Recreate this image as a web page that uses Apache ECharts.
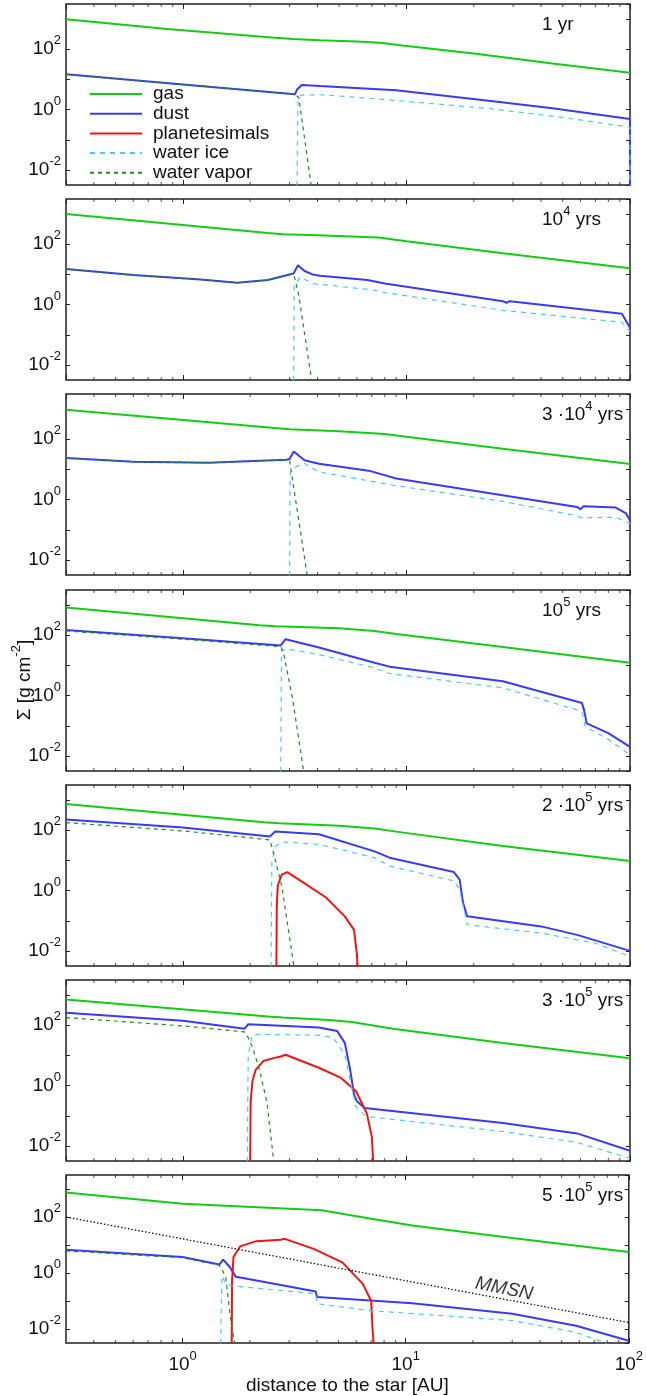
<!DOCTYPE html>
<html>
<head>
<meta charset="utf-8">
<script src="https://cdn.jsdelivr.net/npm/echarts@6/dist/echarts.min.js"></script>
<style>
  html, body { margin: 0; padding: 0; background: #fff; }
  #chart { width: 646px; height: 1396px; }
</style>
</head>
<body>
<div id="chart"></div>
<script>
// Surface densities Σ [g cm^-2] against distance to the star [AU], seven snapshots.

const panelTimes = [
  '{b|1 yr}',
  '{b|10}{s|4}{b| yrs}',
  '{b|3 ·10}{s|4}{b| yrs}',
  '{b|10}{s|5}{b| yrs}',
  '{b|2 ·10}{s|5}{b| yrs}',
  '{b|3 ·10}{s|5}{b| yrs}',
  '{b|5 ·10}{s|5}{b| yrs}'
];
const seriesNames = ['gas', 'dust', 'planetesimals', 'water ice', 'water vapor'];
const xMinorTicks = [0.4, 0.5, 0.6, 0.7, 0.8, 0.9, 2, 3, 4, 5, 6, 7, 8, 9, 20, 30, 40, 50, 60, 70, 80, 90];

// 1 yr
const gas1 = [[0.3,980],[0.85,470],[2.5,245],[3.1,218],[4.1,200],[6,182],[7.6,163],[9.6,132],[20,72],[45,34],[100,16.5]];
const dust1 = [[0.3,14.8],[1,6.8],[3.17,3.2],[3.24,4.6],[3.4,6.5],[4.1,6.0],[9,4.4],[22.8,2.0],[45,1.1],[100,0.49],[100,0.003]];
const vapor1 = [[0.3,14.8],[1,6.8],[3.17,3.2],[3.3,2.5],[3.75,0.003]];
const ice1 = [[3.24,0.003],[3.27,2.0],[3.36,3.0],[4.1,3.1],[5.8,2.6],[9,2.0],[23,1.1],[50,0.55],[100,0.26],[100,0.003]];

// 1e4 yrs
const gas2 = [[0.3,1000],[2.4,235],[2.8,215],[4,200],[7.5,166],[10,125],[27,50],[100,16]];
const dust2 = [[0.3,15],[0.6,9.5],[1.2,6.8],[1.75,5.3],[2.4,6.5],[3.13,10.8],[3.27,20],[3.5,13],[3.8,10],[4.1,9.1],[6.7,6.5],[8,5.0],[27,1.3],[28,1.15],[29,1.3],[92,0.5],[100,0.17]];
const vapor2 = [[0.3,15],[0.6,9.5],[1.2,6.8],[1.75,5.3],[2.4,6.5],[3.13,10.8],[3.3,2.0],[3.77,0.003]];
const ice2 = [[3.13,0.003],[3.15,4],[3.35,8.3],[3.8,5.0],[7.2,3.0],[8,2.5],[27,0.65],[92,0.26],[100,0.13]];

// 3e4 yrs
const gas3 = [[0.3,950],[2.5,240],[3,215],[5,185],[8,150],[10,120],[27,48],[100,15]];
const dust3 = [[0.3,24],[0.6,18],[1.3,16.6],[2.9,21],[3.0,22],[3.13,39],[3.5,20],[4.06,15.5],[6.9,8.8],[9,5.0],[58,0.57],[60,0.48],[62,0.6],[86,0.55],[96,0.35],[100,0.2]];
const vapor3 = [[0.3,24],[0.6,18],[1.3,16.6],[2.9,21],[3.0,20],[3.6,0.003]];
const ice3 = [[3.0,0.003],[3.02,8],[3.2,12],[3.48,16],[4.06,8.3],[8.7,3.0],[27,0.87],[58,0.29],[60,0.25],[86,0.26],[100,0.16]];

// 1e5 yrs
const gas4 = [[0.3,835],[2.2,215],[2.6,200],[5,170],[7.2,139],[9,110],[27,41],[100,12.3]];
const dust4 = [[0.3,150],[1,79],[2.74,46],[2.88,74],[4.06,39],[7.2,12.3],[8.4,9.1],[27,3.0],[61,0.57],[62.5,0.3],[64,0.12],[80,0.057],[100,0.02]];
const vapor4 = [[0.3,139],[1,74],[2.74,42],[2.82,26],[3.1,0.74],[3.47,0.003]];
const ice4 = [[2.74,0.003],[2.76,32],[3.0,34],[4.06,23],[7.2,8.3],[8.4,5.4],[27,1.8],[61,0.3],[63,0.095],[80,0.035],[100,0.011]];

// 2e5 yrs
const gas5 = [[0.3,740],[2.3,185],[2.7,171],[5,140],[7.2,114],[9,90],[27,30],[100,9.6]];
const dust5 = [[0.3,227],[1,123],[2.45,62],[2.59,91],[4.06,74],[7.2,20],[8.4,12.3],[16.3,4.1],[17.3,2.3],[17.9,0.4],[18.7,0.14],[40,0.065],[58,0.034],[100,0.01]];
const vapor5 = [[0.3,180],[1,95],[2.45,48],[2.52,23],[2.77,1.4],[3.14,0.003]];
const ice5 = [[2.48,0.003],[2.5,10],[2.6,30],[2.77,41],[4.06,34],[7.2,12.3],[8.4,6.5],[16.3,2.1],[17.3,1.07],[18.7,0.074],[40,0.039],[70,0.018],[100,0.0065]];
const plan5 = [[2.62,0.003],[2.63,0.3],[2.66,1.5],[2.77,3.4],[2.93,4.1],[3.48,1.8],[4.38,0.58],[5.3,0.14],[5.83,0.05],[6.0,0.008],[6.05,0.003]];

// 3e5 yrs
const gas6 = [[0.3,720],[2.4,195],[2.8,180],[4.5,150],[5.7,129],[8.7,77],[27,26],[100,8.1]];
const dust6 = [[0.3,258],[1,140],[1.89,77],[1.96,108],[4.06,84],[4.9,64],[5.3,26],[5.6,3.4],[5.83,0.5],[6.0,0.3],[6.5,0.18],[27,0.057],[58,0.026],[100,0.0069]];
const vapor6 = [[0.3,180],[1,95],[1.89,60],[1.96,39],[2.04,20],[2.2,3.4],[2.38,0.26],[2.55,0.003]];
const ice6 = [[1.94,0.003],[1.96,10],[2.04,47],[2.2,50],[4.06,47],[4.7,39],[5.3,10.8],[5.7,0.83],[5.95,0.2],[6.6,0.095],[27,0.03],[58,0.013],[100,0.0039]];
const plan6 = [[2.0,0.003],[2.01,0.3],[2.05,1.5],[2.12,3.4],[2.29,6.5],[2.57,8.3],[2.72,9.0],[2.88,10.5],[4.06,3.9],[5.1,1.8],[5.95,0.65],[6.65,0.12],[7.0,0.02],[7.1,0.003]];

// 5e5 yrs
const gas7 = [[0.3,745],[1,300],[4.2,173],[7,87],[10.7,50],[30,17.7],[100,5.6]];
const dust7 = [[0.3,6.8],[1,3.7],[1.46,2.0],[1.52,3.0],[1.63,1.6],[1.73,0.74],[1.97,0.61],[3.95,0.22],[4.0,0.14],[10.7,0.083],[30,0.035],[58,0.013],[100,0.0038]];
const vapor7 = [[0.3,6.2],[1,3.5],[1.46,1.9],[1.5,1.4],[1.56,0.7],[1.63,0.035],[1.71,0.003]];
const ice7 = [[1.48,0.003],[1.5,0.8],[1.56,0.4],[1.66,0.35],[3.95,0.18],[4.0,0.08],[7,0.045],[30,0.02],[58,0.0076],[80,0.003]];
const plan7 = [[1.66,0.003],[1.665,0.5],[1.69,3.7],[1.81,8.9],[2.14,13.7],[2.75,15.5],[2.87,16.6],[3.87,7.3],[5.2,2.4],[6.42,0.41],[7.0,0.1],[7.1,0.01],[7.18,0.003]];
const mmsn7 = [[0.3,100],[100,0.017]];
const mmsnLabelAt = [[27.6, 0.27]];

const panels = [
  { gas: gas1, dust: dust1, ice: ice1, vapor: vapor1 },
  { gas: gas2, dust: dust2, ice: ice2, vapor: vapor2 },
  { gas: gas3, dust: dust3, ice: ice3, vapor: vapor3 },
  { gas: gas4, dust: dust4, ice: ice4, vapor: vapor4 },
  { gas: gas5, dust: dust5, plan: plan5, ice: ice5, vapor: vapor5 },
  { gas: gas6, dust: dust6, plan: plan6, ice: ice6, vapor: vapor6 },
  { gas: gas7, dust: dust7, plan: plan7, ice: ice7, vapor: vapor7, mmsn: mmsn7 }
];

const X_MIN = 0.3, X_MAX = 100;
const Y_MIN = 0.0031623, Y_MAX = 3162.3;
const FONT = "'Liberation Sans', Arial, Helvetica, sans-serif";
const INK = '#111';
const rich = {
  b: { fontSize: 19, lineHeight: 30, fontFamily: FONT, color: INK },
  s: { fontSize: 13, lineHeight: 14, verticalAlign: 'top', fontFamily: FONT, color: INK }
};

const styles = {
  gas:   { color: '#14cc14', width: 2,   type: 'solid' },
  dust:  { color: '#3a3af2', width: 2,   type: 'solid' },
  plan:  { color: '#ee1515', width: 2,   type: 'solid' },
  ice:   { color: '#50c8f5', width: 1.2, type: [5, 5] },
  vapor: { color: '#1f8a1f', width: 1.2, type: [4, 4] }
};
const keyName = { gas: 'gas', dust: 'dust', plan: 'planetesimals', ice: 'water ice', vapor: 'water vapor' };

function powLabel(v) {
  const l = Math.log10(v);
  const e = Math.round(l);
  if (Math.abs(l - e) > 1e-6) return '';
  return '{b|10}{s|' + e + '}';
}

const GRID_TOP = 4, GRID_STEP = 195.2, GRID_H = 181;
const grids = [], xAxes = [], yAxes = [], series = [], titles = [];

panels.forEach((p, i) => {
  const top = Math.round(GRID_TOP + GRID_STEP * i);
  grids.push({ left: 66, right: 16, top: top, height: GRID_H, show: true,
               borderColor: '#222', borderWidth: 1.5, backgroundColor: 'transparent' });
  const last = i === panels.length - 1;
  const tick = { show: true, inside: true, length: 5, lineStyle: { color: '#222', width: 1 } };
  xAxes.push({
    type: 'log', gridIndex: i, position: 'bottom', min: X_MIN, max: X_MAX,
    axisLine: { show: false }, splitLine: { show: false }, axisTick: tick,
    axisLabel: { show: last, showMinLabel: false, margin: 7, formatter: powLabel, rich: rich },
    name: last ? 'distance to the star [AU]' : '', nameLocation: 'middle', nameGap: 33,
    nameTextStyle: { fontSize: 19, fontFamily: FONT, color: INK }
  });
  xAxes.push({
    type: 'log', gridIndex: i, position: 'top', min: X_MIN, max: X_MAX,
    axisLine: { show: false }, splitLine: { show: false }, axisTick: tick,
    axisLabel: { show: false }
  });
  const yTick = { show: true, inside: true, length: 4, lineStyle: { color: '#222', width: 1 } };
  yAxes.push({
    type: 'log', gridIndex: i, position: 'left', min: Y_MIN, max: Y_MAX,
    axisLine: { show: false }, splitLine: { show: false }, axisTick: yTick,
    axisLabel: {
      margin: 5, showMinLabel: false, showMaxLabel: false, rich: rich,
      formatter: v => {
        const e = Math.round(Math.log10(v));
        if (Math.abs(Math.log10(v) - e) > 1e-6 || e % 2 !== 0) return '';
        return powLabel(v);
      }
    }
  });
  yAxes.push({
    type: 'log', gridIndex: i, position: 'right', min: Y_MIN, max: Y_MAX,
    axisLine: { show: false }, splitLine: { show: false }, axisTick: yTick,
    axisLabel: { show: false }
  });

  ['gas', 'dust', 'plan', 'ice', 'vapor'].forEach(k => {
    if (!p[k]) return;
    const st = styles[k];
    series.push({
      type: 'line', name: keyName[k], xAxisIndex: 2 * i, yAxisIndex: 2 * i,
      data: p[k], symbol: 'none', showSymbol: false, clip: true,
      lineStyle: { color: st.color, width: st.width, type: st.type },
      itemStyle: { color: st.color }, silent: true
    });
  });
  if (p.mmsn) {
    series.push({
      type: 'line', name: 'MMSN', xAxisIndex: 2 * i, yAxisIndex: 2 * i,
      data: p.mmsn, symbol: 'none', clip: true, silent: true,
      lineStyle: { color: '#000', width: 1.2, type: [1.5, 2] }
    });
    series.push({
      type: 'scatter', name: 'MMSN label', xAxisIndex: 2 * i, yAxisIndex: 2 * i,
      data: mmsnLabelAt, symbolSize: 0, silent: true,
      label: { show: true, position: 'inside', formatter: 'MMSN', rotate: -11.4,
               fontSize: 19, fontStyle: 'italic', fontFamily: FONT, color: '#000' }
    });
  }
  // minor x ticks along the bottom and top borders
  series.push({
    type: 'scatter', name: 'minor-bottom', xAxisIndex: 2 * i, yAxisIndex: 2 * i,
    data: xMinorTicks.map(v => [v, Y_MIN]), symbol: 'rect', symbolSize: [1, 3],
    symbolOffset: [0, -1.5], itemStyle: { color: '#222' }, clip: false, silent: true
  });
  series.push({
    type: 'scatter', name: 'minor-top', xAxisIndex: 2 * i, yAxisIndex: 2 * i,
    data: xMinorTicks.map(v => [v, Y_MAX]), symbol: 'rect', symbolSize: [1, 3],
    symbolOffset: [0, 1.5], itemStyle: { color: '#222' }, clip: false, silent: true
  });

  titles.push({
    text: panelTimes[i], left: 542, top: top + 6, padding: 0,
    textStyle: { rich: rich, fontSize: 19, fontFamily: FONT, color: INK, fontWeight: 'normal' }
  });
});

const chart = echarts.init(document.getElementById('chart'), null, { renderer: 'canvas' });
chart.setOption({
  animation: false,
  backgroundColor: '#fff',
  title: titles,
  grid: grids,
  xAxis: xAxes,
  yAxis: yAxes,
  legend: {
    data: seriesNames, orient: 'vertical', left: 84, top: 79,
    itemWidth: 52, itemHeight: 12, itemGap: -0.3, selectedMode: false,
    itemStyle: { opacity: 0 },
    textStyle: { fontSize: 19, fontFamily: FONT, color: INK, lineHeight: 20, padding: [0, 0, 0, 6] }
  },
  graphic: [{
    type: 'text', x: 25, y: 680, rotation: Math.PI / 2,
    style: {
      text: '{b|Σ [g cm}{s|-2}{b|]}', rich: rich,
      align: 'center', verticalAlign: 'middle', fill: INK
    }
  }],
  series: series
});
</script>
</body>
</html>
